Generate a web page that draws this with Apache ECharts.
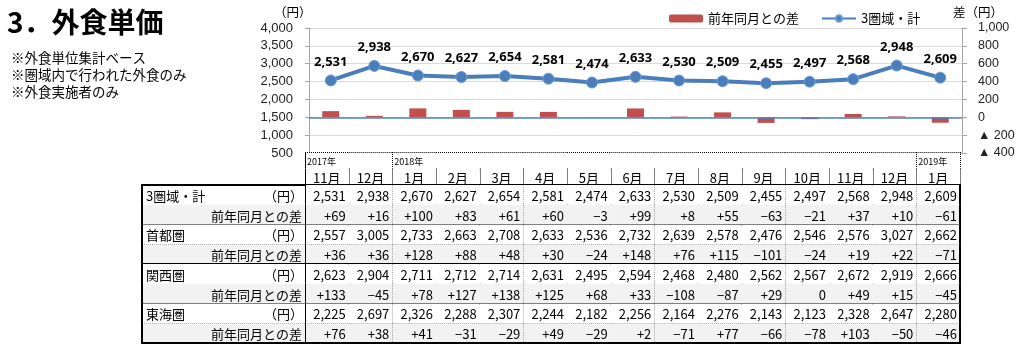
<!DOCTYPE html>
<html><head><meta charset="utf-8">
<script src="https://cdn.jsdelivr.net/npm/echarts@6/dist/echarts.min.js"></script>
<style>html,body{margin:0;padding:0;background:#fff}#c{width:1024px;height:350px}</style>
</head><body><div id="c"></div>
<script>
const months = ['11月','12月','1月','2月','3月','4月','5月','6月','7月','8月','9月','10月','11月','12月','1月'];
const yearLabels = ['2017年','','2018年','','','','','','','','','','','','2019年'];
const rowLabels = ['3圏域・計','前年同月との差','首都圏','前年同月との差','関西圏','前年同月との差','東海圏','前年同月との差'];
const total      = [2531,2938,2670,2627,2654,2581,2474,2633,2530,2509,2455,2497,2568,2948,2609];
const totalDiff  = [69,16,100,83,61,60,-3,99,8,55,-63,-21,37,10,-61];
const shuto      = [2557,3005,2733,2663,2708,2633,2536,2732,2639,2578,2476,2546,2576,3027,2662];
const shutoDiff  = [36,36,128,88,48,30,-24,148,76,115,-101,-24,19,22,-71];
const kansai     = [2623,2904,2711,2712,2714,2631,2495,2594,2468,2480,2562,2567,2672,2919,2666];
const kansaiDiff = [133,-45,78,127,138,125,68,33,-108,-87,29,0,49,15,-45];
const tokai      = [2225,2697,2326,2288,2307,2244,2182,2256,2164,2276,2143,2123,2328,2647,2280];
const tokaiDiff  = [76,38,41,-31,-29,49,-29,2,-71,77,-66,-78,103,-50,-46];
const leftTicks = [500, 4000, 500];   // min, max, interval
const rightTicks = [-400, 1000, 200];

const tableRows = [total,totalDiff,shuto,shutoDiff,kansai,kansaiDiff,tokai,tokaiDiff];
const fmtNum = v => v.toLocaleString('en-US');
const fmtDiff = v => v > 0 ? '+' + v : (v < 0 ? '−' + Math.abs(v) : '0');

const FONT = '"Noto Sans CJK JP", "Noto Sans", sans-serif';
const cells = [], cellText = [];
tableRows.forEach((arr, r) => arr.forEach((v, c) => { cells.push([c, r]); cellText.push(r % 2 ? fmtDiff(v) : fmtNum(v)); }));
const headCells = [];
months.forEach((m, c) => { headCells.push([c, 0]); headCells.push([c, 1]); });
const labelCells = rowLabels.map((l, r) => [0, r]);

function ln(x1, y1, x2, y2, w, dotted) {
  const o = (w % 2 === 1) ? 0.5 : 0;
  if (x1 === x2) { x1 = x2 = Math.round(x1) + o; } else { y1 = y2 = Math.round(y1) + o; }
  return { type: 'line', shape: { x1, y1, x2, y2 }, style: { stroke: '#000', lineWidth: w, lineDash: dotted ? [1, 1] : null } };
}
function geom(api) {
  const p = api.coord([api.value(0), api.value(1)]);
  const s = api.size([1, 1]);
  return { x0: p[0] - s[0] / 2, y0: p[1] - s[1] / 2, x1: p[0] + s[0] / 2, y1: p[1] + s[1] / 2, cx: p[0], cy: p[1] };
}
function txt(x, y, text, align, size) {
  return { type: 'text', style: { x, y, text, align, verticalAlign: 'middle', fill: '#000', font: (size || 13) + 'px ' + FONT } };
}

const option = {
  animation: false,
  textStyle: { fontFamily: FONT },
  legend: {
    data: ['前年同月との差', '3圏域・計'], left: 664, top: 7, itemWidth: 34, itemHeight: 8, itemGap: 22,
    textStyle: { fontSize: 13, color: '#000', fontFamily: FONT }
  },
  grid: [
    { left: 309, right: 62, top: 28, height: 125 },
    { left: 305, right: 64, top: 152, height: 33 },
    { left: 305, right: 64, top: 185, height: 158 },
    { left: 142, width: 163, top: 185, height: 158 }
  ],
  xAxis: [
    { type: 'category', gridIndex: 0, data: months, boundaryGap: true,
      axisLine: { onZero: false, lineStyle: { color: '#a6a6a6' } }, axisTick: { show: false }, axisLabel: { show: false } },
    { type: 'category', gridIndex: 1, data: months, show: false },
    { type: 'category', gridIndex: 2, data: months, show: false },
    { type: 'category', gridIndex: 3, data: ['label'], show: false }
  ],
  yAxis: [
    { type: 'value', gridIndex: 0, min: leftTicks[0], max: leftTicks[1], interval: leftTicks[2],
      axisLine: { show: true, lineStyle: { color: '#a6a6a6' } }, axisTick: { show: true, length: 4, lineStyle: { color: '#a6a6a6' } },
      axisLabel: { margin: 16, fontSize: 13, color: '#222', fontFamily: '"Liberation Sans", Arial, sans-serif', formatter: v => fmtNum(v) },
      splitLine: { lineStyle: { color: '#d9d9d9' } } },
    { type: 'value', gridIndex: 0, position: 'right', min: rightTicks[0], max: rightTicks[1], interval: rightTicks[2],
      axisLine: { show: true, lineStyle: { color: '#a6a6a6' } }, axisTick: { show: true, length: 5, lineStyle: { color: '#a6a6a6' } },
      axisLabel: { margin: 16, fontSize: 12.5, color: '#222', fontFamily: '"Liberation Sans", Arial, sans-serif',
        formatter: v => v < 0 ? '▲ ' + Math.abs(v) : fmtNum(v) },
      splitLine: { show: false } },
    { type: 'category', gridIndex: 1, data: ['year', 'month'], inverse: true, show: false },
    { type: 'category', gridIndex: 2, data: rowLabels, inverse: true, show: false },
    { type: 'category', gridIndex: 3, data: rowLabels, inverse: true, show: false }
  ],
  graphic: [
    { type: 'text', left: 7, top: 8, style: { text: '3．外食単価', font: 'bold 28px ' + FONT, fill: '#000' } },
    { type: 'text', left: 11, top: 51, style: { text: '※外食単位集計ベース', font: '13.5px ' + FONT, fill: '#000' } },
    { type: 'text', left: 11, top: 68, style: { text: '※圏域内で行われた外食のみ', font: '13.5px ' + FONT, fill: '#000' } },
    { type: 'text', left: 11, top: 85, style: { text: '※外食実施者のみ', font: '13.5px ' + FONT, fill: '#000' } },
    { type: 'text', left: 274, top: 6, style: { text: '（円）', font: '12.5px ' + FONT, fill: '#000' } },
    { type: 'text', left: 953, top: 6, style: { text: '差（円）', font: '12.5px ' + FONT, fill: '#000' } }
  ],
  series: [
    { name: '前年同月との差', type: 'bar', xAxisIndex: 0, yAxisIndex: 1, data: totalDiff, barWidth: 17,
      itemStyle: { color: '#c0504d' },
      markLine: { silent: true, symbol: 'none', label: { show: false }, lineStyle: { color: '#4f81bd', width: 1.5, type: 'solid' }, data: [{ yAxis: 0 }] } },
    { name: '3圏域・計', type: 'line', xAxisIndex: 0, yAxisIndex: 0, data: total,
      symbol: 'circle', symbolSize: 11,
      lineStyle: { color: '#4a7ebb', width: 4 },
      itemStyle: { color: '#4a7ebb', borderColor: '#6f9bd2', borderWidth: 1 },
      label: { show: true, position: 'top', distance: 6, color: '#000', fontWeight: 'bold', fontSize: 13,
        fontFamily: '"Noto Sans", sans-serif', formatter: p => fmtNum(p.value) } },
    { type: 'custom', xAxisIndex: 1, yAxisIndex: 2, data: headCells, silent: true,
      renderItem: (params, api) => {
        const g = geom(api); const c = api.value(0), r = api.value(1);
        const ch = [{ type: 'rect', shape: { x: g.x0, y: g.y0, width: g.x1 - g.x0, height: g.y1 - g.y0 }, style: { fill: '#fff' } }];
        if (r === 0) {
          if (yearLabels[c]) ch.push(txt(g.x0 + 2, g.cy + 1, yearLabels[c], 'left', 9));
          ch.push(ln(g.x0, g.y0, g.x1, g.y0, 1, true));
          ch.push(ln(g.x0, g.y1, g.x1, g.y1, 1, true));
          if (c === 0) ch.push(ln(g.x0, g.y0, g.x0, g.y1, 1, false));
          else if (yearLabels[c]) ch.push(ln(g.x0, g.y0, g.x0, g.y1, 1, true));
          if (c === months.length - 1) ch.push(ln(g.x1, g.y0, g.x1, g.y1, 1, true));
        } else {
          ch.push(txt(g.cx, g.cy + 1, months[c], 'center', 13));
          ch.push(ln(g.x0, g.y0, g.x0, g.y1, 1, c !== 0));
          if (c === months.length - 1) ch.push(ln(g.x1, g.y0, g.x1, g.y1, 1, true));
          ch.push(ln(g.x0 - 1, g.y1, g.x1 + 1, g.y1, 2, false));
        }
        return { type: 'group', children: ch };
      } },
    { type: 'custom', xAxisIndex: 2, yAxisIndex: 3, data: cells, silent: true,
      renderItem: (params, api) => {
        const g = geom(api); const c = api.value(0), r = api.value(1);
        const last = c === months.length - 1;
        const ch = [{ type: 'rect', shape: { x: g.x0, y: g.y0, width: g.x1 - g.x0, height: g.y1 - g.y0 }, style: { fill: r % 2 ? '#f2f2f2' : '#fff' } }];
        ch.push(txt(g.x1 - 3, g.cy + 1, cellText[params.dataIndex], 'right', 13));
        ch.push(ln(g.x1, g.y0, g.x1, g.y1, last ? 2 : 1, !last));
        ch.push(r % 2 ? ln(g.x0 - 1, g.y1, g.x1 + 1, g.y1, 2, false) : ln(g.x0, g.y1, g.x1, g.y1, 1, true));
        if (c === 0) ch.push(ln(g.x0, g.y0, g.x0, g.y1, 1, false));
        return { type: 'group', children: ch };
      } },
    { type: 'custom', xAxisIndex: 3, yAxisIndex: 4, data: labelCells, silent: true,
      renderItem: (params, api) => {
        const g = geom(api); const r = api.value(1);
        const ch = [{ type: 'rect', shape: { x: g.x0, y: g.y0, width: g.x1 - g.x0, height: g.y1 - g.y0 }, style: { fill: r % 2 ? '#f2f2f2' : '#fff' } }];
        if (r % 2 === 0) {
          ch.push(txt(g.x0 + 4, g.cy + 1, rowLabels[r], 'left', 13));
          ch.push(txt(g.x1 - 2, g.cy + 1, '（円）', 'right', 13));
        } else {
          ch.push(txt(g.x1 - 3, g.cy + 1, rowLabels[r], 'right', 13));
        }
        ch.push(ln(g.x0, g.y0 - 1, g.x0, g.y1 + 1, 2, false));
        if (r === 0) ch.push(ln(g.x0 - 1, g.y0, g.x1, g.y0, 2, false));
        ch.push(r % 2 ? ln(g.x0 - 1, g.y1, g.x1, g.y1, 2, false) : ln(g.x0, g.y1, g.x1, g.y1, 1, true));
        return { type: 'group', children: ch };
      } }
  ]
};
echarts.init(document.getElementById('c')).setOption(option);
</script></body></html>
